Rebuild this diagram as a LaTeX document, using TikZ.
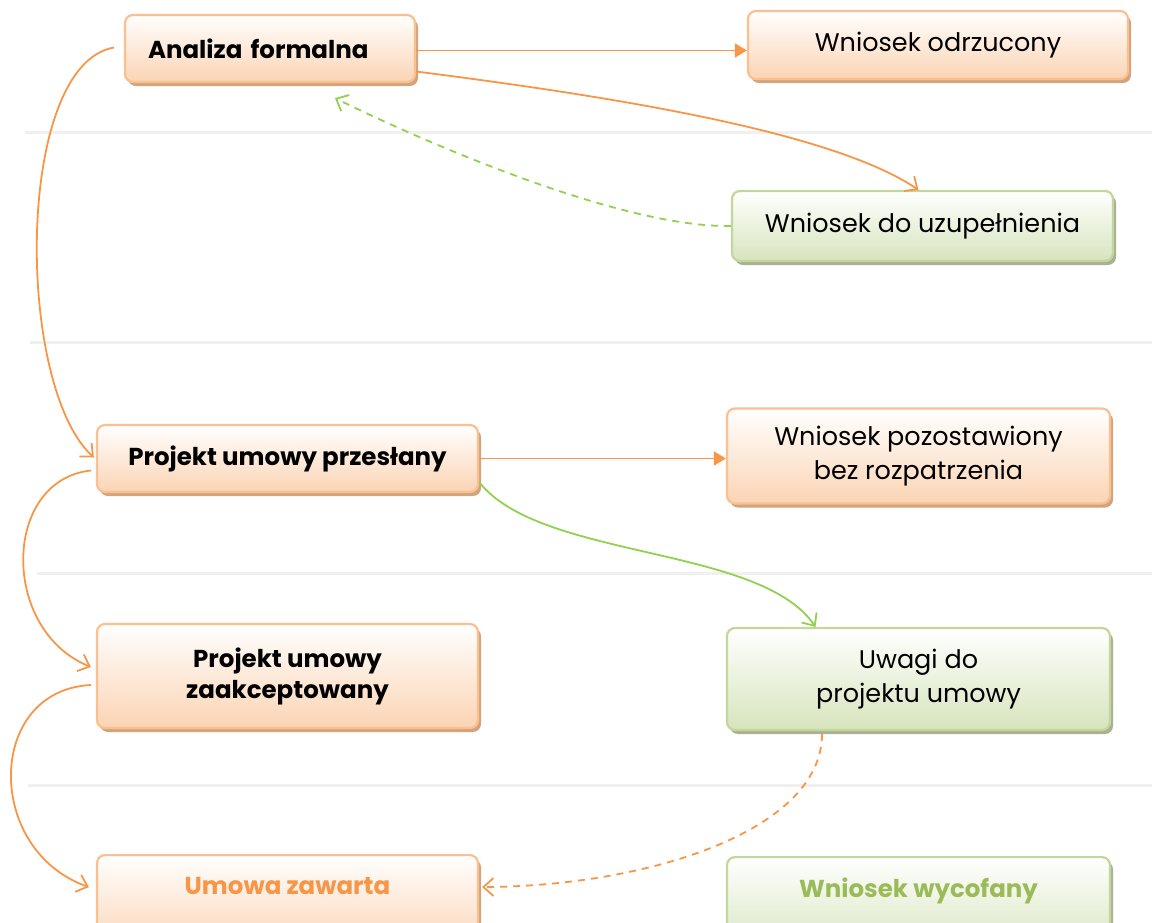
\documentclass[tikz,border=0pt]{standalone}
\usepackage{fontspec}
\setmainfont{Poppins}
\usetikzlibrary{arrows.meta,shadows,calc}
\definecolor{orA}{HTML}{F79646}
\definecolor{orB}{HTML}{FAC090}
\definecolor{orF}{HTML}{FBD4B4}
\definecolor{grA}{HTML}{92D050}
\definecolor{grB}{HTML}{C3D69B}
\definecolor{grF}{HTML}{D7E4BD}
\definecolor{grT}{HTML}{9BBB59}
\definecolor{sepc}{HTML}{F0F0F0}
\definecolor{shO}{HTML}{D2A47E}
\definecolor{shG}{HTML}{A9B293}
\begin{document}
\begin{tikzpicture}[x=1pt,y=-1pt,
  box/.style={rounded corners=8pt, line width=2.2pt, inner sep=0pt, align=center,
    font=\fontsize{25.5}{34}\selectfont, text=black},
  obox/.style={box, draw=orB, top color=white, bottom color=orF,
    drop shadow={shadow xshift=3pt, shadow yshift=-4pt, fill=shO, opacity=1}},
  gbox/.style={box, draw=grB, top color=white, bottom color=grF,
    drop shadow={shadow xshift=3pt, shadow yshift=-4pt, fill=shG, opacity=1}},
  bld/.style={font=\fontsize{24.5}{31}\selectfont\bfseries},
  oarr/.style={draw=orA, line width=1.8pt},
  garr/.style={draw=grA, line width=1.8pt},
  open/.style={-{Straight Barb[length=10pt,width=18pt]}},
  full/.style={-{Triangle[length=12pt,width=14pt]}},
  dsh/.style={dash pattern=on 7pt off 6pt},
  sep/.style={draw=sepc, line width=3pt}
]
\useasboundingbox (0,0) rectangle (1152,922);
\clip (0,0) rectangle (1152,922);

% separators
\path[sep] (25,132) -- (1152,132);
\path[sep] (30,342) -- (1152,342);
\path[sep] (37,573) -- (1152,573);
\path[sep] (28,785) -- (1152,785);

% nodes
\node[obox, bld, minimum width=290pt, minimum height=67pt, text width=244pt, align=left, inner xsep=23pt] (af) at (270,48.5) {Analiza formalna};
\node[obox, minimum width=380pt, minimum height=68pt] (wo) at (938,45) {Wniosek odrzucony};
\node[gbox, minimum width=381pt, minimum height=70pt] (wu) at (922.5,226) {Wniosek do uzupełnienia};
\node[obox, bld, minimum width=381pt, minimum height=67pt] (pp) at (287.5,458.5) {Projekt umowy przesłany};
\node[obox, minimum width=383pt, minimum height=95pt] (wp) at (918.5,456) {Wniosek pozostawiony\\bez rozpatrzenia};
\node[obox, bld, minimum width=381pt, minimum height=104pt] (pz) at (287.5,676) {Projekt umowy\\zaakceptowany};
\node[gbox, minimum width=383pt, minimum height=102pt] (uw) at (918.5,679) {Uwagi do\\projektu umowy};
\node[obox, bld, text=orA, minimum width=381pt, anchor=north, text height=39pt, text depth=57pt] (uz) at (287.5,854) {Umowa zawarta};
\node[gbox, bld, text=grT, minimum width=383pt, anchor=north, text height=40pt, text depth=57pt] (ww) at (918.5,856) {Wniosek wycofany};

% connectors
\draw[oarr, full] ([yshift=-2pt]af.east) -- ([yshift=-2pt]af.east -| wo.west);
\draw[oarr, open] ([yshift=-23pt]af.east) .. controls (600,95) and (830,130) .. ([xshift=-4pt]wu.north);
\draw[garr, dsh, open] (wu.west) .. controls (620,228) and (420,140) .. ([xshift=65pt,yshift=-15pt]af.south);
\draw[oarr, open] ([xshift=-10pt,yshift=1pt]af.west) .. controls (15,65) and (15,385) .. ([xshift=-2pt,yshift=1pt]pp.west);
\draw[oarr, full] (pp.east) -- (pp.east -| wp.west);
\draw[garr, open] ([yshift=-23.5pt]pp.east) .. controls (540,560) and (760,545) .. ([xshift=-103pt]uw.north);
\draw[oarr, open] ([xshift=-5pt,yshift=-12pt]pp.west) .. controls (2,480) and (0,630) .. ([xshift=-5pt,yshift=9pt]pz.west);
\draw[oarr, open] ([xshift=-5pt,yshift=-9pt]pz.west) .. controls (-14,690) and (-16,850) .. ([xshift=-7pt,yshift=16pt]uz.west);
\draw[oarr, dsh, open] ([xshift=-96.5pt,yshift=-3pt]uw.south) .. controls (822,830) and (650,886) .. ([xshift=3pt,yshift=16pt]uz.east);
\end{tikzpicture}
\end{document}
